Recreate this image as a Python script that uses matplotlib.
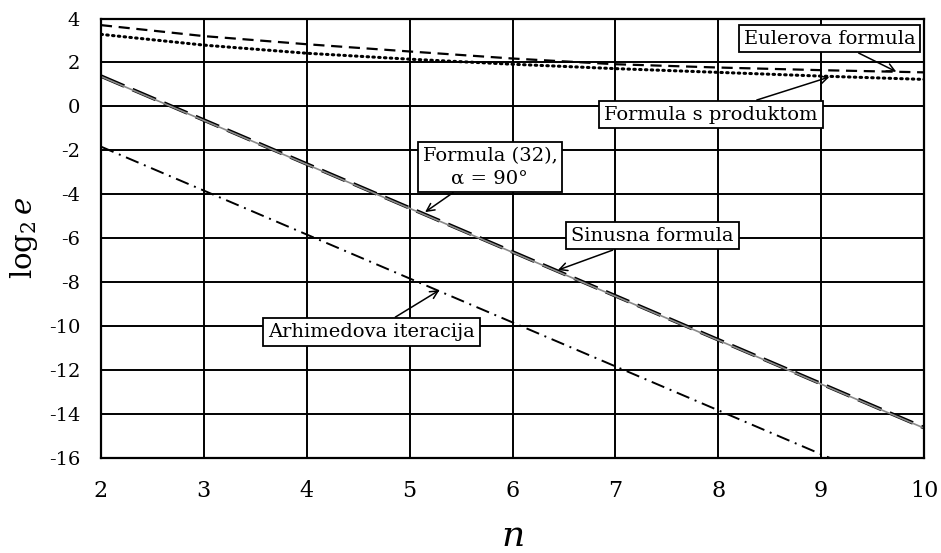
import matplotlib
matplotlib.use("Agg")
import matplotlib.pyplot as plt

plt.rcParams['font.family'] = ['DejaVu Serif']
plt.rcParams['mathtext.fontset'] = 'dejavuserif'

n = [2, 3, 4, 5, 6, 7, 8, 9, 10]
euler = [3.70, 3.20, 2.83, 2.50, 2.18, 1.92, 1.77, 1.65, 1.55]
produkt = [3.28, 2.79, 2.42, 2.15, 1.92, 1.72, 1.55, 1.38, 1.23]
sinusna = [1.38, -0.62, -2.62, -4.62, -6.62, -8.62, -10.62, -12.62, -14.62]
formula32 = [1.36, -0.64, -2.64, -4.64, -6.64, -8.64, -10.64, -12.64, -14.64]
arhimed = [-1.83, -3.83, -5.83, -7.83, -9.83, -11.83, -13.83, -15.83, -17.83]

xticks = [2, 3, 4, 5, 6, 7, 8, 9, 10]
yticks = [-16, -14, -12, -10, -8, -6, -4, -2, 0, 2, 4]

fig = plt.figure(figsize=(9.41, 5.53), dpi=100)
ax = fig.add_axes([0.1073, 0.1718, 0.8747, 0.7947])

ax.plot(n, euler, color='black', lw=1.6, dashes=(5, 3))
ax.plot(n, produkt, color='black', lw=2.2, linestyle=(0, (0.5, 1.4)), dash_capstyle='round')
ax.plot(n, sinusna, color='black', lw=2.6, dashes=(7, 2.5))
ax.plot(n, formula32, color='#8a8a8a', lw=1.2)
ax.plot(n, arhimed, color='black', lw=1.4, dashes=(7, 3, 1, 3))

ax.set_xlim(2, 10)
ax.set_ylim(-16, 4)
ax.set_xticks(xticks)
ax.set_yticks(yticks)
ax.set_xticklabels([str(v) for v in xticks], fontsize=16)
ax.set_yticklabels([str(v) for v in yticks], fontsize=14)
ax.tick_params(axis='both', length=0)
ax.tick_params(axis='x', pad=16)
ax.tick_params(axis='y', pad=15)
ax.grid(True, color='black', lw=1.4)
ax.set_axisbelow(True)
for s in ax.spines.values():
    s.set_linewidth(1.6)
    s.set_color('black')

ax.set_xlabel(r'$n$', fontsize=26, labelpad=12)
ax.set_ylabel(r'$\log_2 e$', fontsize=21, labelpad=6)

bbox = dict(boxstyle='square,pad=0.25', fc='white', ec='black', lw=1.3)
arrow = dict(arrowstyle='->', color='black', lw=1.1, shrinkA=0, shrinkB=0)

def ann(text, xy, xytext):
    ax.annotate(text, xy=xy, xytext=xytext, textcoords='data', fontsize=14,
                ha='center', va='center', bbox=bbox, arrowprops=arrow,
                linespacing=1.3)

ann('Eulerova formula', (9.73, 1.58), (9.08, 3.09))
ann('Formula s produktom', (9.08, 1.34), (7.93, -0.37))
ann('Formula (32),\nα = 90°', (5.15, -4.81), (5.78, -2.76))
ann('Sinusna formula', (6.44, -7.45), (7.36, -5.88))
ann('Arhimedova iteracija', (5.29, -8.36), (4.63, -10.25))

fig.savefig('out.png', dpi=100)
